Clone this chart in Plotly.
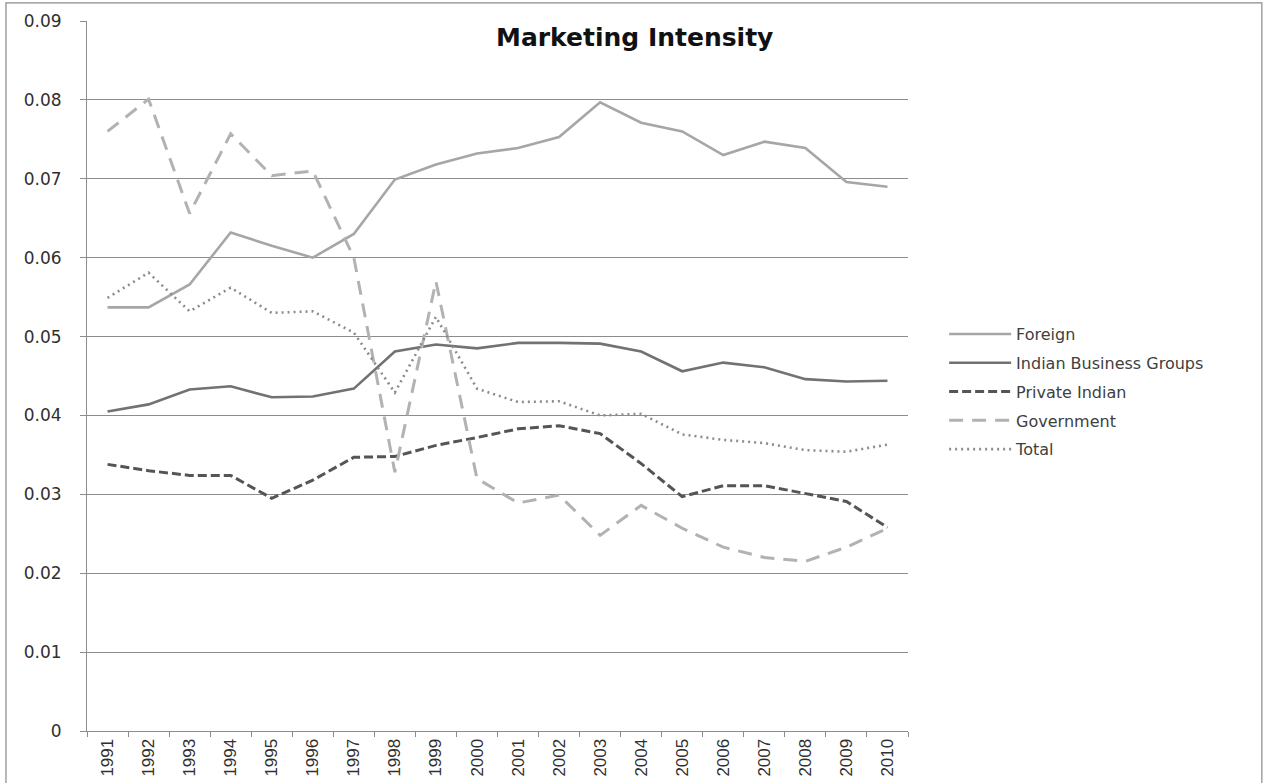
import plotly.graph_objects as go

years = [str(y) for y in range(1991, 2011)]

foreign = [0.0537, 0.0537, 0.0566, 0.0632, 0.0615, 0.0600, 0.0630, 0.0699, 0.0718, 0.0732,
           0.0739, 0.0753, 0.0797, 0.0771, 0.0760, 0.0730, 0.0747, 0.0739, 0.0696, 0.0690]
business_groups = [0.0405, 0.0414, 0.0433, 0.0437, 0.0423, 0.0424, 0.0434, 0.0481, 0.0490, 0.0485,
                   0.0492, 0.0492, 0.0491, 0.0481, 0.0456, 0.0467, 0.0461, 0.0446, 0.0443, 0.0444]
private_indian = [0.0338, 0.0330, 0.0324, 0.0324, 0.0295, 0.0318, 0.0347, 0.0348, 0.0362, 0.0372,
                  0.0383, 0.0387, 0.0377, 0.0339, 0.0297, 0.0311, 0.0311, 0.0301, 0.0291, 0.0258]
government = [0.0760, 0.0801, 0.0656, 0.0757, 0.0704, 0.0710, 0.0600, 0.0328, 0.0570, 0.0320,
              0.0289, 0.0299, 0.0248, 0.0286, 0.0257, 0.0233, 0.0220, 0.0215, 0.0233, 0.0257]
total = [0.0549, 0.0581, 0.0532, 0.0562, 0.0530, 0.0532, 0.0505, 0.0429, 0.0525, 0.0434,
         0.0417, 0.0418, 0.0400, 0.0402, 0.0376, 0.0369, 0.0365, 0.0356, 0.0354, 0.0363]

y_ticks = [0, 0.01, 0.02, 0.03, 0.04, 0.05, 0.06, 0.07, 0.08, 0.09]
y_tick_text = ["0", "0.01", "0.02", "0.03", "0.04", "0.05", "0.06", "0.07", "0.08", "0.09"]

series = [
    ("Foreign", foreign, dict(color="#a6a6a6", width=2.6, dash="solid")),
    ("Indian Business Groups", business_groups, dict(color="#727272", width=2.6, dash="solid")),
    ("Private Indian", private_indian, dict(color="#555555", width=3, dash="9px,4px")),
    ("Government", government, dict(color="#b2b2b2", width=3, dash="14px,9px")),
    ("Total", total, dict(color="#8c8c8c", width=2.6, dash="2px,4px")),
]

fig = go.Figure()
for name, values, line in series:
    fig.add_trace(go.Scatter(
        x=years, y=values, name=name, mode="lines",
        line=line, legendgroup=name,
    ))

axis_grey = "#8c8c8c"

fig.update_layout(
    width=1265, height=783,
    margin=dict(l=87, r=357, t=21, b=52),
    paper_bgcolor="white", plot_bgcolor="white",
    showlegend=True,
    legend=dict(
        x=1.044, y=0.583, xanchor="left", yanchor="top",
        font=dict(family="DejaVu Sans", size=16, color="#404040"),
        itemwidth=62, tracegroupgap=5,
        bgcolor="rgba(0,0,0,0)",
    ),
    xaxis=dict(
        type="category", categoryorder="array", categoryarray=years,
        range=[-0.5, 19.5], automargin=False,
        showgrid=False, showline=True, linecolor=axis_grey, linewidth=1,
        ticks="outside", tickson="boundaries", ticklen=5, tickcolor=axis_grey,
        tickangle=-90,
        tickfont=dict(family="Liberation Sans Narrow, Liberation Sans", size=17, color="#303030"),
    ),
    yaxis=dict(
        range=[0, 0.09], tickvals=y_ticks, ticktext=y_tick_text, automargin=False,
        showgrid=True, gridcolor=axis_grey, gridwidth=1,
        showline=True, linecolor=axis_grey, linewidth=1,
        ticks="outside", ticklen=6, tickcolor=axis_grey,
        ticklabelstandoff=15,
        tickfont=dict(family="DejaVu Sans", size=17, color="#303030"),
        zeroline=False,
    ),
    annotations=[dict(
        text="<b>Marketing Intensity</b>", xref="paper", yref="paper",
        x=0.667, y=0.977, xanchor="center", yanchor="middle", showarrow=False,
        font=dict(family="DejaVu Sans", size=25, color="#111111"),
    )],
    shapes=[dict(
        type="rect", xref="paper", yref="paper",
        x0=-0.0987, x1=1.431, y0=-0.1, y1=1.0254,
        line=dict(color="#8a8a8a", width=1.2), fillcolor="rgba(0,0,0,0)", layer="below",
    )],
)

fig.write_html("out.html")
